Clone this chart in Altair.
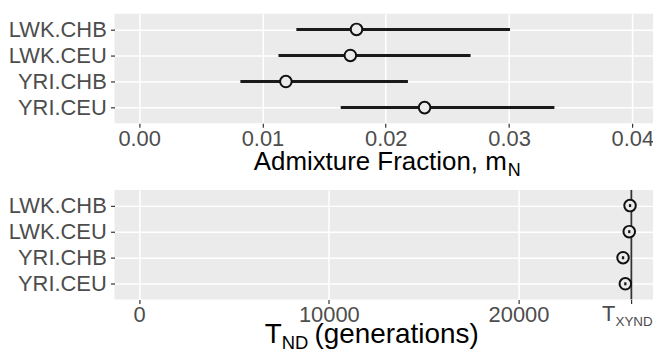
import altair as alt
import pandas as pd

groups = ["LWK.CHB", "LWK.CEU", "YRI.CHB", "YRI.CEU"]
mN = [0.01763, 0.01713, 0.0119, 0.02315]
mN_lo = [0.01275, 0.0113, 0.00821, 0.01635]
mN_hi = [0.03008, 0.02688, 0.0218, 0.03368]

T_nd = [25880, 25838, 25511, 25631]
T_lo = [25820, 25778, 25451, 25571]
T_hi = [25940, 25898, 25571, 25691]
T_xynd = 25950

top_ticks = [0, 0.01, 0.02, 0.03, 0.04]
bot_ticks = [0, 10000, 20000, T_xynd]

title_top = ["Admixture Fraction, m", "N"]
title_bot = ["T", "ND", "(generations)"]
txynd_label = ["T", "XYND"]

FONT = "Liberation Sans"
W, H = 545, 110

top_df = pd.DataFrame({"pop": groups, "m": mN, "lo": mN_lo, "hi": mN_hi})
bot_df = pd.DataFrame({"pop": groups, "t": T_nd, "lo": T_lo, "hi": T_hi})

yenc = alt.Y("pop:N", sort=groups, scale=alt.Scale(type="point", padding=0.6),
             axis=alt.Axis(title=None, labelPadding=4.3, minExtent=104, maxExtent=104))

xs_top = alt.Scale(domain=[-0.002, 0.042], nice=False, zero=False)
xa_top = alt.Axis(values=top_ticks, format=".2f", title=None, labelPadding=1.5)

top_base = alt.Chart(top_df)
top_bars = top_base.mark_rule(color="#1a1a1a", strokeWidth=3).encode(
    x=alt.X("lo:Q", scale=xs_top, axis=xa_top), x2="hi:Q", y=yenc)
top_pts = top_base.mark_point(shape="circle", size=135, filled=False, fill="#EBEBEB",
                              fillOpacity=1, stroke="#111111", strokeWidth=2, opacity=1).encode(
    x=alt.X("m:Q", scale=xs_top, axis=xa_top), y=yenc)
t1 = alt.Chart(pd.DataFrame({"s": [title_top[0]]})).mark_text(
    align="right", baseline="alphabetic", fontSize=26, font=FONT, color="black").encode(
    x=alt.value(394), y=alt.value(157), text="s:N")
t2 = alt.Chart(pd.DataFrame({"s": [title_top[1]]})).mark_text(
    align="left", baseline="alphabetic", fontSize=18, font=FONT, color="black").encode(
    x=alt.value(395), y=alt.value(163), text="s:N")
top = alt.layer(top_bars, top_pts, t1, t2).properties(width=W, height=H)

xs_bot = alt.Scale(domain=[-1300, 27300], nice=False, zero=False)
xa_bot = alt.Axis(values=bot_ticks, title=None, labelPadding=1.5,
                  labelExpr=f"datum.value == {T_xynd} ? '' : format(datum.value, 'd')")

bot_base = alt.Chart(bot_df)
vline = alt.Chart(pd.DataFrame({"t": [T_xynd]})).mark_rule(color="#333333", strokeWidth=1.8).encode(
    x=alt.X("t:Q", scale=xs_bot, axis=xa_bot))
bot_pts = bot_base.mark_point(shape="circle", size=135, filled=False, fill="#EBEBEB",
                              fillOpacity=1, stroke="#111111", strokeWidth=2, opacity=1).encode(
    x=alt.X("t:Q", scale=xs_bot, axis=xa_bot), y=yenc)
bot_bars = bot_base.mark_rule(color="#1a1a1a", strokeWidth=3).encode(
    x=alt.X("lo:Q", scale=xs_bot, axis=xa_bot), x2="hi:Q", y=yenc)
lab_df = pd.DataFrame({"t": [T_xynd], "a": [txynd_label[0]], "b": [txynd_label[1]]})
lab1 = alt.Chart(lab_df).mark_text(align="right", baseline="alphabetic", fontSize=22,
                                   font=FONT, color="#4D4D4D", dx=-16).encode(
    x=alt.X("t:Q", scale=xs_bot, axis=xa_bot), y=alt.value(131.5), text="a:N")
lab2 = alt.Chart(lab_df).mark_text(align="left", baseline="alphabetic", fontSize=13.5,
                                   font=FONT, color="#4D4D4D", dx=-16).encode(
    x=alt.X("t:Q", scale=xs_bot, axis=xa_bot), y=alt.value(136.5), text="b:N")
b1 = alt.Chart(pd.DataFrame({"s": [title_bot[0]]})).mark_text(
    align="right", baseline="alphabetic", fontSize=28, font=FONT, color="black").encode(
    x=alt.value(168), y=alt.value(154), text="s:N")
b2 = alt.Chart(pd.DataFrame({"s": [title_bot[1]]})).mark_text(
    align="left", baseline="alphabetic", fontSize=18.5, font=FONT, color="black").encode(
    x=alt.value(168), y=alt.value(159.5), text="s:N")
b3 = alt.Chart(pd.DataFrame({"s": [title_bot[2]]})).mark_text(
    align="left", baseline="alphabetic", fontSize=28, font=FONT, color="black").encode(
    x=alt.value(201), y=alt.value(154), text="s:N")
bot = alt.layer(vline, bot_pts, bot_bars, lab1, lab2, b1, b2, b3).properties(width=W, height=H)

chart = alt.vconcat(top, bot, spacing=67, bounds="flush").properties(
    padding={"left": 0, "top": 5, "right": -4, "bottom": -3.5}
).configure_view(fill="#EBEBEB", stroke=None).configure_axis(
    grid=True, gridColor="white", gridWidth=1.5, domain=False,
    tickColor="#333333", tickSize=4, tickWidth=1.2,
    labelColor="#4D4D4D", labelFontSize=22, labelFont=FONT,
)

chart.save("out.html", embed_options={"renderer": "svg", "actions": False})
